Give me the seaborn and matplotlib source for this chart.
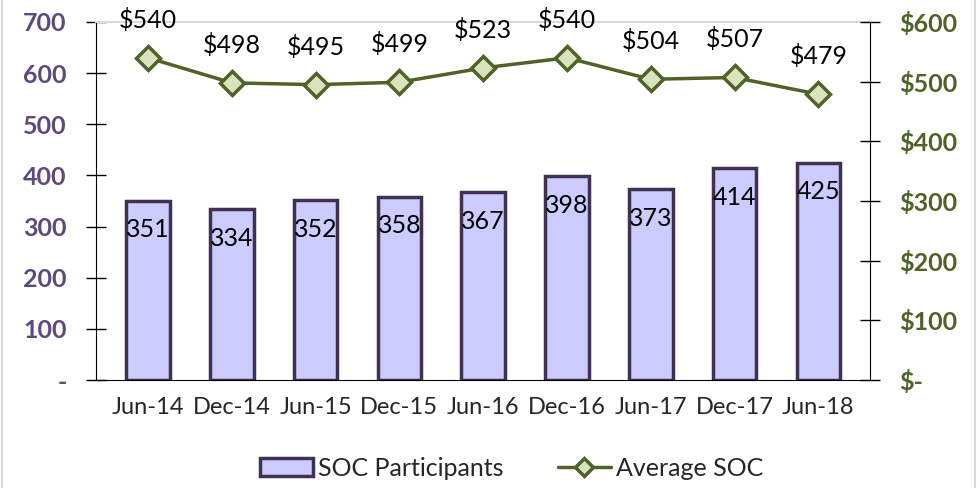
import matplotlib
matplotlib.use('Agg')
import matplotlib.pyplot as plt
from matplotlib.patches import Patch
from matplotlib.lines import Line2D
import numpy as np
import pandas as pd
import seaborn as sns

# Chart data
periods      = ['Jun-14', 'Dec-14', 'Jun-15', 'Dec-15', 'Jun-16', 'Dec-16', 'Jun-17', 'Dec-17', 'Jun-18']
participants = [351, 334, 352, 358, 367, 398, 373, 414, 425]
avg_soc      = [540, 498, 495, 499, 523, 540, 504, 507, 479]

df = pd.DataFrame({'PERIOD': periods, 'PARTICIPANTS': participants, 'AVG_SOC': avg_soc})

bar_fill  = '#CCCCFF'
bar_edge  = '#3F3151'
purple    = '#5F497A'
olive     = '#4F6228'
diam_fill = '#D7E4BD'

sns.set_style(style='white')
plt.rcParams['font.family'] = ['Lato', 'DejaVu Sans']

fig = plt.figure(figsize=(9.8, 4.88), dpi=100)
ax = fig.add_axes([0.098, 0.221, 0.79, 0.734])

# Bars
sns.barplot(data=df, x='PERIOD', y='PARTICIPANTS', ax=ax, color=bar_fill,
            edgecolor=bar_edge, linewidth=2.5, width=0.52, saturation=1)
ax.set_ylim(0, 700)
ax.set_xlim(-0.62, len(periods) - 0.38)
ax.set_yticks(range(0, 701, 100))
ax.set_yticklabels(['-'] + [str(v) for v in range(100, 701, 100)])
ax.set_xlabel('')
ax.set_ylabel('')

for i, v in enumerate(participants):
    ax.text(i, v - 29 * 700 / 358, str(v), ha='center', va='center', fontsize=18, color='black')

# Line on the secondary axis
ax2 = ax.twinx()
sns.lineplot(data=df, x='PERIOD', y='AVG_SOC', ax=ax2, color=olive, linewidth=2.5,
             marker='D', markersize=12, markerfacecolor=diam_fill, markeredgecolor=olive,
             markeredgewidth=2.5, sort=False)
ax2.set_ylim(0, 600)
ax2.set_yticks(range(0, 601, 100))
ax2.set_yticklabels(['$-'] + ['$' + str(v) for v in range(100, 601, 100)])
ax2.set_ylabel('')
ax2.set_xlabel('')

for i, v in enumerate(avg_soc):
    ax2.text(i, v + 38 * 600 / 358, '$' + str(v), ha='center', va='center', fontsize=18, color='black')

# Axes styling
for a in (ax, ax2):
    for s in a.spines.values():
        s.set_visible(False)
ax.spines['left'].set_visible(True)
ax.spines['bottom'].set_visible(True)
ax.spines['left'].set_color('black')
ax.spines['bottom'].set_color('black')
ax2.spines['right'].set_visible(True)
ax2.spines['right'].set_color('black')
ax.spines['top'].set_visible(True)
ax.spines['top'].set_color('#D9D9D9')
ax.spines['top'].set_linewidth(1.5)

ax.tick_params(axis='y', direction='inout', length=14, width=1, colors='black',
               labelcolor=purple, labelsize=18, pad=14)
for lbl in ax.get_yticklabels():
    lbl.set_fontweight('bold')
ax2.tick_params(axis='y', direction='inout', length=14, width=1, colors='black',
                labelcolor=olive, labelsize=18, pad=14)
for lbl in ax2.get_yticklabels():
    lbl.set_fontweight('bold')

# x ticks at category boundaries
ax.set_xticks(np.arange(len(periods)))
ax.set_xticklabels(periods, fontsize=17)
ax.tick_params(axis='x', length=0, pad=12)
ax.set_xticks(np.arange(len(periods) + 1) - 0.5, minor=True)
ax.tick_params(axis='x', which='minor', direction='out', length=8, width=1, color='black')
ax.grid(False)
ax2.grid(False)

# Legend
handles = [Patch(facecolor=bar_fill, edgecolor=bar_edge, linewidth=2.5, label='SOC Participants'),
           Line2D([0], [0], color=olive, linewidth=2.5, marker='D', markersize=9,
                  markerfacecolor=diam_fill, markeredgecolor=olive, markeredgewidth=2.5,
                  label='Average SOC')]
fig.legend(handles=handles, loc='center', bbox_to_anchor=(0.522, 0.04), ncol=2, frameon=False,
           fontsize=18, handlelength=2.1, handletextpad=0.2, columnspacing=2.2)

# Light outer frame
fig.patches.append(plt.Rectangle((0.002, -0.01), 0.993, 1.02, transform=fig.transFigure,
                                 fill=False, edgecolor='#D9D9D9', linewidth=1.5))

fig.savefig('out.png', dpi=100)
